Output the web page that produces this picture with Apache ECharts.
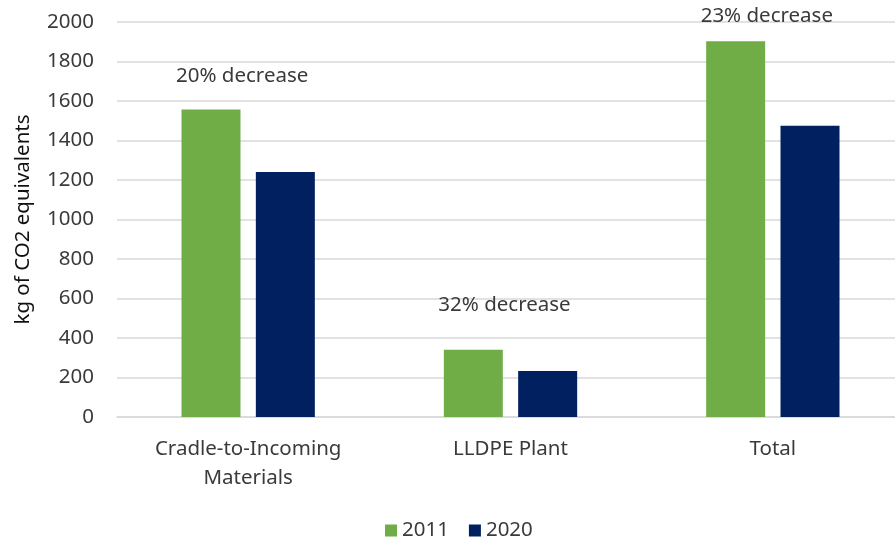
<!DOCTYPE html>
<html><head><meta charset="utf-8">
<script src="https://cdn.jsdelivr.net/npm/echarts@6/dist/echarts.min.js"></script>
<style>html,body{margin:0;padding:0;background:#fff}#c{width:895px;height:546px}</style>
</head><body><div id="c"></div>
<script>
const categories = ['Cradle-to-Incoming\nMaterials', 'LLDPE Plant', 'Total'];
const series2011 = [1557, 341, 1902];
const series2020 = [1240, 233, 1475];
const yTicks = [0, 200, 400, 600, 800, 1000, 1200, 1400, 1600, 1800, 2000];
const annotationText = ['20% decrease', '32% decrease', '23% decrease'];
const annotationY = [1724, 567, 2030];

const FONT = 'Noto Sans';
const FS = 20.5;
const TXT = '#3a3a3a';
const chart = echarts.init(document.getElementById('c'));
chart.setOption({
  animation: false,
  textStyle: { fontFamily: FONT },
  grid: { left: 117, top: 22, width: 787, height: 395, containLabel: false, outerBoundsMode: 'none' },
  legend: {
    bottom: 0, left: 380, itemWidth: 12, itemHeight: 12, itemGap: 20,
    icon: 'rect',
    textStyle: { fontFamily: FONT, fontSize: FS, color: TXT },
    data: ['2011', '2020']
  },
  xAxis: {
    type: 'category', data: categories,
    axisLine: { show: true, lineStyle: { color: '#d9d9d9', width: 1.5 } },
    axisTick: { show: false },
    axisLabel: { fontFamily: FONT, fontSize: FS, color: TXT, margin: 18, lineHeight: 29 }
  },
  yAxis: {
    type: 'value', min: yTicks[0], max: yTicks[yTicks.length - 1], interval: 200,
    name: 'kg of CO2 equivalents', nameLocation: 'middle', nameGap: 83, nameRotate: 90,
    nameTextStyle: { fontFamily: FONT, fontSize: FS, color: '#111' },
    axisLine: { show: false }, axisTick: { show: false },
    axisLabel: { fontFamily: FONT, fontSize: FS, color: TXT, margin: 23, formatter: v => String(v) },
    splitLine: { lineStyle: { color: '#d9d9d9', width: 1.5 } }
  },
  series: [
    { name: '2011', type: 'bar', data: series2011, barWidth: 59, barGap: '26%',
      itemStyle: { color: '#70AD47' } },
    { name: '2020', type: 'bar', data: series2020, barWidth: 59,
      itemStyle: { color: '#002060' } },
    { name: 'notes', type: 'scatter', symbolSize: 0, clip: false, silent: true,
      itemStyle: { opacity: 1 },
      data: annotationY.map((v, i) => ({ value: [i, v], label: { formatter: annotationText[i] } })),
      label: { show: true, position: 'inside', offset: [-6, 0], fontFamily: FONT, fontSize: FS, color: TXT } }
  ]
});
</script></body></html>
